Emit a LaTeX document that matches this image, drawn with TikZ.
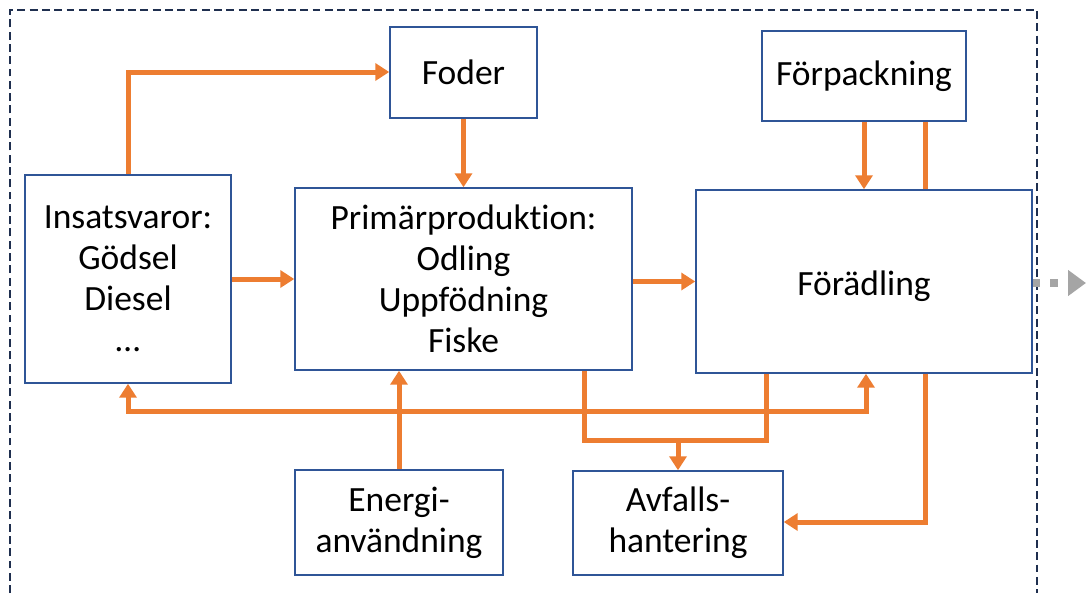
\documentclass[tikz,border=0pt]{standalone}
\usepackage{fontspec}
\setmainfont{Carlito}[Ligatures=NoCommon]
\usetikzlibrary{arrows.meta,calc}
\definecolor{boxblue}{HTML}{2F5597}
\definecolor{frame}{HTML}{1F2F4F}
\definecolor{flow}{HTML}{ED7D31}
\definecolor{grayarr}{HTML}{A5A5A5}
\begin{document}
\begin{tikzpicture}[x=0.02cm,y=-0.02cm,
  blk/.style={draw=boxblue,line width=0.84pt,fill=white,align=center,inner sep=0pt,
    font=\fontsize{20.2}{23.3}\selectfont},
  lbl/.style={align=center,inner sep=0pt,font=\fontsize{20.2}{23.3}\selectfont},
  flw/.style={draw=flow,line width=0.1cm},
  tip/.style={-{Triangle[length=0.28cm,width=0.34cm]}},
  bothtip/.style={{Triangle[length=0.28cm,width=0.34cm]}-{Triangle[length=0.28cm,width=0.34cm]}}]
\useasboundingbox (0,0) rectangle (1086,593);
% frame
\draw[frame,line width=1.2pt,dash pattern=on 4.5pt off 2.5pt] (10,593) -- (10,10) -- (1037,10) -- (1037,593);
% boxes
\node[blk,minimum width=147*0.02cm,minimum height=91*0.02cm] (fod) at (463.5,72.5) {Foder};
\node[blk,minimum width=204*0.02cm,minimum height=90*0.02cm] (fpk) at (864,76) {Förpackning};
\node[blk,minimum width=206*0.02cm,minimum height=208*0.02cm] (ins) at (128,279) {Insatsvaror:\\Gödsel\\Diesel\\…};
\node[blk,minimum width=337*0.02cm,minimum height=182*0.02cm] (pri) at (463.5,279) {Primärproduktion:\\Odling\\Uppfödning\\Fiske};
\node[blk,minimum width=336*0.02cm,minimum height=183*0.02cm] (foe) at (864,281.5) {};
\node[lbl] (foetxt) at (864,286) {Förädling};
\node[blk,minimum width=208*0.02cm,minimum height=105*0.02cm] (ene) at (399,522.5) {Energi-\\användning};
\node[blk,minimum width=210*0.02cm,minimum height=104*0.02cm] (avf) at (678,523) {Avfalls-\\hantering};
% helper coordinates
\coordinate (c1) at (128,72);
\coordinate (c2) at (925,0);
\coordinate (b1) at (866,411);
\coordinate (b2) at (128,411);
\coordinate (w1) at (584,440);
\coordinate (w2) at (766,440);
\coordinate (w3) at (678,440);
\coordinate (d1) at (925,522);
% connectors
\draw[flw,tip] (ins.north) -- (c1) -- (c1 -| fod.west);
\draw[flw,tip] (fod.south) -- (pri.north);
\draw[flw,tip] (ins.east) -- (ins.east -| pri.west);
\draw[flw,tip] (pri.east |- foe.west) -- (foe.west);
\draw[flw,tip] (fpk.south) -- (foe.north);
\draw[flw] (c2 |- fpk.south) -- (c2 |- foe.north);
\draw[flw,bothtip] (ins.south) -- (b2) -- (b1) -- (b1 |- foe.south);
\draw[flw,tip] (ene.north) -- (ene.north |- pri.south);
\draw[flw] (w1 |- pri.south) -- (w1) -- (w2) -- (w2 |- foe.south);
\draw[flw,tip] (w3) -- (avf.north);
\draw[flw,tip] (c2 |- foe.south) -- (d1) -- (d1 -| avf.east);
% outgoing gray arrow
\coordinate (g1) at (1086,283);
\draw[grayarr,line width=0.15cm,dash pattern=on 0.15cm off 0.2cm] (foe.east |- g1) -- ++(34,0);
\draw[grayarr,line width=0.15cm,-{Triangle[length=0.36cm,width=0.5cm]}] (1068,283) -- (g1);
\end{tikzpicture}
\end{document}
